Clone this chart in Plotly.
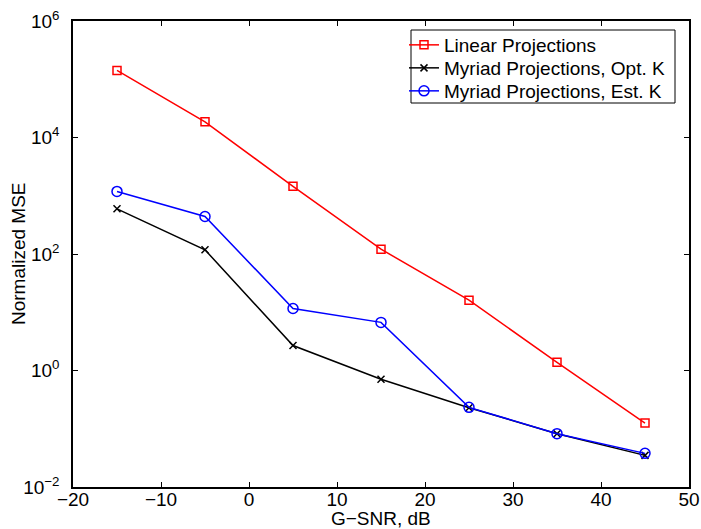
import plotly.graph_objects as go

snr = [-15, -5, 5, 15, 25, 35, 45]
linear_mse = [1.42e5, 1.86e4, 1.45e3, 121, 16.1, 1.38, 0.125]
myriad_opt = [596, 118, 2.68, 0.706, 0.23, 0.082, 0.0349]
myriad_est = [1186, 441, 11.6, 6.7, 0.233, 0.0824, 0.0378]

x_ticks = [-20, -10, 0, 10, 20, 30, 40, 50]
x_ticktext = ["\u221220", "\u221210", "0", "10", "20", "30", "40", "50"]
y_ticks = [1e-2, 1e0, 1e2, 1e4, 1e6]
y_ticktext = ["10<sup>\u22122</sup>", "10<sup>0</sup>", "10<sup>2</sup>", "10<sup>4</sup>", "10<sup>6</sup>"]

FS = 19
W, H = 701, 529
ML, MR, MT, MB = 73, 12, 21, 42
PW, PH = W - ML - MR, H - MT - MB


def px_x(p):
    return (p - ML) / PW


def px_y(p):
    return 1 - (p - MT) / PH


fig = go.Figure()
fig.add_trace(go.Scatter(x=snr, y=linear_mse, mode="lines+markers", name="Linear Projections",
                         line=dict(color="#ff0000", width=1.5), legend="legend",
                         marker=dict(symbol="square-open", size=8, color="#ff0000", line=dict(width=1.5))))
fig.add_trace(go.Scatter(x=snr, y=myriad_opt, mode="lines+markers", name="Myriad Projections, Opt. K",
                         line=dict(color="#000000", width=1.5), legend="legend2",
                         marker=dict(symbol="x-thin-open", size=7, color="#000000", line=dict(width=1.5, color="#000000"))))
fig.add_trace(go.Scatter(x=snr, y=myriad_est, mode="lines+markers", name="Myriad Projections, Est. K",
                         line=dict(color="#0000ff", width=1.5), legend="legend3",
                         marker=dict(symbol="circle-open", size=10, color="#0000ff", line=dict(width=1.5))))

axis_common = dict(showgrid=False, zeroline=False, showline=True, linecolor="black", linewidth=1.5,
                   mirror="ticks", ticks="inside", ticklen=5, tickcolor="black", tickwidth=1,
                   automargin=False, tickfont=dict(size=FS, color="black"))
fig.update_xaxes(range=[-20, 50], tickvals=x_ticks, ticktext=x_ticktext,
                 ticklabelstandoff=-6, **axis_common)
fig.update_yaxes(type="log", range=[-2, 6], tickvals=y_ticks, ticktext=y_ticktext,
                 ticklabelstandoff=8, **axis_common)

leg_common = dict(bgcolor="rgba(0,0,0,0)", borderwidth=0, font=dict(size=FS, color="black"),
                  xanchor="left", yanchor="middle", itemwidth=30)
leg_x = px_x(404)

fig.update_layout(
    width=W, height=H,
    margin=dict(l=ML, r=MR, t=MT, b=MB),
    paper_bgcolor="white", plot_bgcolor="white",
    font=dict(family="Liberation Sans, Arial, sans-serif", size=FS, color="black"),
    showlegend=True,
    legend=dict(x=leg_x, y=px_y(45), **leg_common),
    legend2=dict(x=leg_x, y=px_y(68), **leg_common),
    legend3=dict(x=leg_x, y=px_y(91), **leg_common),
    shapes=[dict(type="rect", xref="paper", yref="paper",
                 x0=px_x(411), x1=px_x(675), y0=px_y(103), y1=px_y(30),
                 line=dict(color="black", width=1), fillcolor="white", layer="above")],
    annotations=[
        dict(text="G\u2212SNR, dB", xref="paper", yref="paper", x=px_x(381), y=px_y(518),
             xanchor="center", yanchor="middle", showarrow=False, font=dict(size=FS, color="black")),
        dict(text="Normalized MSE", xref="paper", yref="paper", x=px_x(18), y=px_y(254),
             xanchor="center", yanchor="middle", textangle=-90, showarrow=False,
             font=dict(size=FS, color="black")),
    ],
)
fig.write_html("out.html", config={"displayModeBar": False},
               post_script="document.body.style.margin='0';document.body.style.overflow='hidden';")
